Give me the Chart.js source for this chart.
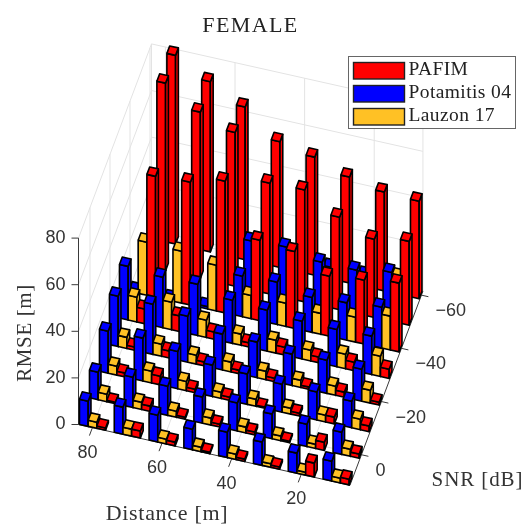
<!DOCTYPE html>
<html>
<head>
<meta charset="utf-8">
<title>FEMALE</title>
<style>
	html, body { margin: 0; padding: 0; background: #fff; }
	canvas { display: block; }
</style>
<script src="https://cdn.jsdelivr.net/npm/chart.js@4"></script>
</head>
<body>
<canvas id="chart" width="524" height="527"></canvas>
<script>
(function () {
	'use strict';

	var distances = [80, 70, 60, 50, 40, 30, 20, 10];
	var snrLevels = [10, 0, -10, -20, -30, -40, -50, -60];
	var seriesNames = ['PAFIM', 'Potamitis 04', 'Lauzon 17'];

	// one row per SNR level, one value per distance
	var pafim = [
		[1, 3, 1.6, 0.6, 1, 1, 6, 2.4],
		[0.6, 2.3, 0.9, 1.2, 1.2, 0.6, 3.5, 1.8],
		[1.7, 3.7, 1.5, 1.4, 0.5, 1.2, 2.9, 2.4],
		[1.4, 3, 1.7, 1.5, 1.5, 1, 2.2, 1.2],
		[6.3, 6.7, 3.1, 1.8, 3.4, 2.4, 3.6, 4],
		[51.9, 52.7, 56.5, 34.5, 33, 25.8, 27.4, 29.5],
		[80.5, 71.4, 66, 47.6, 48, 39.7, 33.6, 36],
		[81, 73, 65.5, 54, 50.7, 45.5, 42.4, 41.8]
	];
	var potamitis = [
		[10.8, 11.6, 11.5, 8.8, 10.9, 10, 8.6, 8.5],
		[11.8, 13, 12.5, 11.2, 12, 10.6, 9.6, 9.5],
		[18, 18.4, 16, 13.5, 13, 12, 12, 11.4],
		[21.6, 21.5, 19.7, 15.4, 15.3, 13.5, 14.2, 13.7],
		[23, 21.7, 22, 18.5, 17.6, 16.2, 16, 16.5],
		[1, 1, 1, 17.4, 18.2, 15, 16, 17.5],
		[2, 2, 2, 21, 21.8, 18.7, 18.6, 21],
		[2, 2, 2, 5, 5, 5, 5, 5]
	];
	var lauzon = [
		[2.6, 3, 2, 1.9, 2.3, 1.5, 1.2, 2],
		[3.2, 3.1, 2.6, 3, 2.5, 2, 1.8, 3],
		[3.8, 5, 4, 2.7, 3, 2.5, 2.9, 4.5],
		[4.8, 5.2, 3.8, 4.2, 3.6, 3.1, 3.9, 5.5],
		[10.6, 11.8, 7.4, 4.8, 5.5, 4.6, 6.2, 8.7],
		[22.8, 22.3, 19.6, 10, 10, 9, 10.7, 14.5],
		[30, 30, 30, 18, 18, 12, 14, 19.8],
		[30, 30, 30, 20, 20, 20, 20, 20]
	];

	var distanceTicks = [80, 60, 40, 20];
	var snrTicks = [0, -20, -40, -60];
	var rmseTicks = [0, 20, 40, 60, 80];

	var DIST_MAX = 84, DIST_MIN = 6, SNR_MAX = 11.5, SNR_MIN = -61.5, RMSE_TOP = 80;
	var BAR_W = 2.5, BAR_D = 1.4;
	var COLORS = { pafim: '#ff0000', potamitis: '#0000ff', lauzon: '#ffc125' };
	var GRID = '#e3e3e3', AXIS = '#3a3a3a', SERIF = '"Liberation Serif", serif', SANS = '"Liberation Sans", sans-serif';

	// orthographic view of the 3D box, gives x/y in the flat chart scales
	function project(d, s, z) {
		var u = DIST_MAX - d, v = SNR_MAX - s;
		return { x: 78.5 + 3.48 * u + 1.0 * v, y: 424.5 + 0.78 * u - 2.66 * v - 2.33 * z };
	}

	function lineSet(points, color, width) {
		return { type: 'scatter', showLine: true, data: points, borderColor: color, borderWidth: width, pointRadius: 0, fill: false, tension: 0, clip: false };
	}

	function faceSet(points, color) {
		return { type: 'scatter', showLine: true, data: points.concat([points[0]]), borderColor: '#000', borderWidth: 1.6, backgroundColor: color, pointRadius: 0, fill: 'shape', tension: 0, clip: false, borderJoinStyle: 'round' };
	}

	function gridSets() {
		var out = [];
		rmseTicks.forEach(function (z) {
			out.push(lineSet([project(DIST_MAX, SNR_MAX, z), project(DIST_MAX, SNR_MIN, z), project(DIST_MIN, SNR_MIN, z)], GRID, 1));
		});
		distanceTicks.forEach(function (d) {
			out.push(lineSet([project(d, SNR_MAX, 0), project(d, SNR_MIN, 0), project(d, SNR_MIN, RMSE_TOP)], GRID, 1));
		});
		snrTicks.forEach(function (s) {
			out.push(lineSet([project(DIST_MIN, s, 0), project(DIST_MAX, s, 0), project(DIST_MAX, s, RMSE_TOP)], GRID, 1));
		});
		out.push(lineSet([project(DIST_MAX, SNR_MIN, 0), project(DIST_MAX, SNR_MIN, RMSE_TOP)], GRID, 1));
		out.push(lineSet([project(DIST_MIN, SNR_MIN, 0), project(DIST_MIN, SNR_MIN, RMSE_TOP)], GRID, 1));
		return out;
	}

	function axisSets() {
		var out = [
			lineSet([project(DIST_MAX, SNR_MAX, 0), project(DIST_MAX, SNR_MAX, RMSE_TOP)], AXIS, 1),
			lineSet([project(DIST_MAX, SNR_MAX, 0), project(DIST_MIN, SNR_MAX, 0), project(DIST_MIN, SNR_MIN, 0)], AXIS, 1)
		];
		rmseTicks.forEach(function (z) {
			var p = project(DIST_MAX, SNR_MAX, z);
			out.push(lineSet([p, { x: p.x - 7, y: p.y }], AXIS, 1));
		});
		distanceTicks.forEach(function (d) {
			out.push(lineSet([project(d, SNR_MAX, 0), project(d, SNR_MAX + 3, 0)], AXIS, 1));
		});
		snrTicks.forEach(function (s) {
			out.push(lineSet([project(DIST_MIN, s, 0), project(DIST_MIN - 2, s, 0)], AXIS, 1));
		});
		return out;
	}

	function barSets(d, s, z, color) {
		var l = d + BAR_W / 2, r = d - BAR_W / 2, f = s + BAR_D, b = s - BAR_D;
		return [
			faceSet([project(l, f, 0), project(r, f, 0), project(r, f, z), project(l, f, z)], color),
			faceSet([project(r, f, 0), project(r, b, 0), project(r, b, z), project(r, f, z)], color),
			faceSet([project(l, f, z), project(r, f, z), project(r, b, z), project(l, b, z)], color)
		];
	}

	function buildDatasets() {
		var out = gridSets().concat(axisSets());
		// painter's order: far rows first, then left to right in a row
		for (var row = snrLevels.length - 1; row >= 0; row--) {
			for (var col = 0; col < distances.length; col++) {
				out = out.concat(barSets(distances[col] + BAR_W, snrLevels[row], potamitis[row][col], COLORS.potamitis));
				out = out.concat(barSets(distances[col], snrLevels[row], lauzon[row][col], COLORS.lauzon));
				out = out.concat(barSets(distances[col] - BAR_W, snrLevels[row], pafim[row][col], COLORS.pafim));
			}
		}
		// chart.js paints the first dataset last
		return out.reverse();
	}

	function text(ctx, str, x, y, font, color, align, spacing) {
		ctx.font = font;
		ctx.fillStyle = color;
		ctx.textAlign = align || 'center';
		ctx.textBaseline = 'middle';
		ctx.letterSpacing = spacing || '0px';
		ctx.fillText(str, x, y);
	}

	var labelsPlugin = {
		id: 'labels3d',
		afterDatasetsDraw: function (chart) {
			var ctx = chart.ctx;
			ctx.save();

			text(ctx, 'FEMALE', 250.5, 26, '22px ' + SERIF, '#222', 'center', '1.4px');
			rmseTicks.forEach(function (z) {
				var p = project(DIST_MAX, SNR_MAX, z);
				text(ctx, String(z), p.x - 13, p.y, '18px ' + SANS, '#333', 'right');
			});
			distanceTicks.forEach(function (d) {
				var p = project(d, SNR_MAX, 0);
				text(ctx, String(d), p.x - 5, p.y + 25, '18px ' + SANS, '#333');
			});
			snrTicks.forEach(function (s) {
				var p = project(DIST_MIN, s, 0);
				text(ctx, String(s).replace('-', '\u2212'), p.x + 14, p.y + 16, '18px ' + SANS, '#333', 'left');
			});
			text(ctx, 'Distance [m]', 167, 514, '22px ' + SERIF, '#333', 'center', '0.7px');
			text(ctx, 'SNR [dB]', 477.5, 480, '21px ' + SERIF, '#333', 'center', '0.9px');
			ctx.save();
			ctx.translate(25, 333);
			ctx.rotate(-Math.PI / 2);
			text(ctx, 'RMSE [m]', 0, 0, '21px ' + SERIF, '#333', 'center', '0.6px');
			ctx.restore();

			// legend box
			ctx.fillStyle = '#fff';
			ctx.strokeStyle = '#666';
			ctx.lineWidth = 1;
			ctx.fillRect(348.5, 56.5, 167, 72);
			ctx.strokeRect(348.5, 56.5, 167, 72);
			[COLORS.pafim, COLORS.potamitis, COLORS.lauzon].forEach(function (color, i) {
				var y = 62.5 + i * 23;
				ctx.fillStyle = color;
				ctx.strokeStyle = '#222';
				ctx.lineWidth = 1.4;
				ctx.fillRect(353.5, y, 51, 16.5);
				ctx.strokeRect(353.5, y, 51, 16.5);
				text(ctx, seriesNames[i], 408.5, y + 7, '19.5px ' + SERIF, '#222', 'left', '0.4px');
			});
			ctx.restore();
		}
	};

	new Chart(document.getElementById('chart'), {
		type: 'scatter',
		data: { datasets: buildDatasets() },
		options: {
			responsive: false,
			animation: false,
			events: [],
			layout: { padding: 0 },
			plugins: { legend: { display: false }, title: { display: false }, tooltip: { enabled: false } },
			scales: {
				x: { type: 'linear', display: false, min: 0, max: 524 },
				y: { type: 'linear', display: false, min: 0, max: 527, reverse: true }
			}
		},
		plugins: [labelsPlugin]
	});
})();
</script>
</body>
</html>
